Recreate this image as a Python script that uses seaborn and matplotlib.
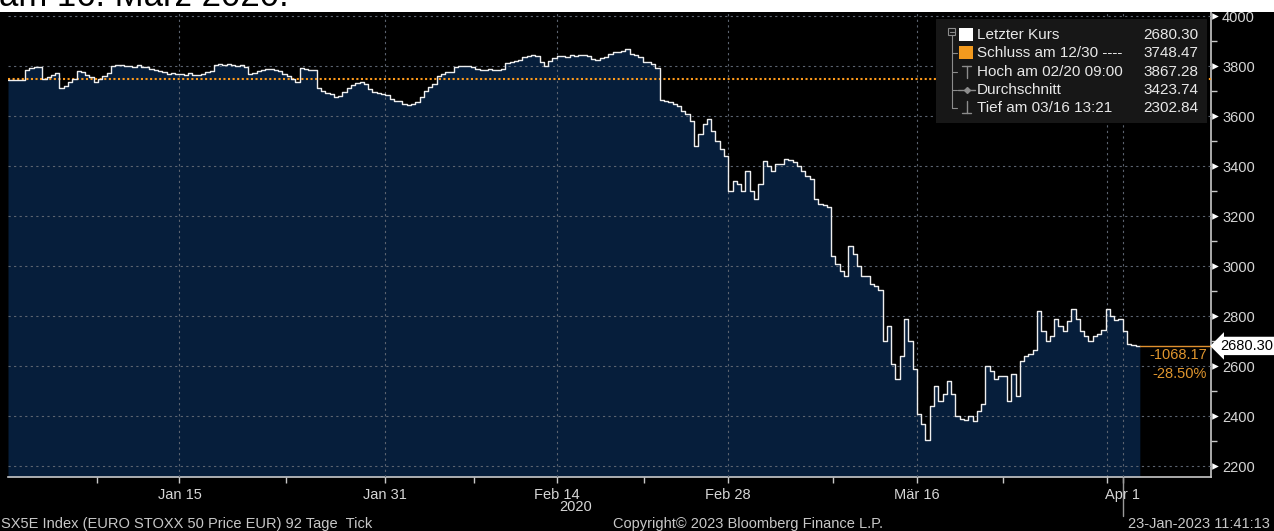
import numpy as np
import pandas as pd
import seaborn as sns
import matplotlib.pyplot as plt
import matplotlib.transforms as mtransforms
from matplotlib.patches import Rectangle
from matplotlib.lines import Line2D

# x axis: trading-day index, 0 = Dec 31 2019, 65 = Apr 1 2020
tick_days = [10, 22, 32, 42, 53, 65]
tick_labels = ["Jan 15", "Jan 31", "Feb 14", "Feb 28", "Mär 16", "Apr 1"]
minor_days = [5.2, 16.2, 27.2, 37.1, 48.1, 58.0]
points_per_day = 4

# intraday prices, four readings per trading day
prices = [
    3745, 3745, 3745, 3745,
    3784, 3792, 3797, 3795,
    3750, 3756, 3765, 3772,
    3712, 3722, 3735, 3748,
    3780, 3775, 3765, 3755,
    3738, 3748, 3760, 3772,
    3800, 3805, 3803, 3800,
    3800, 3797, 3803, 3797,
    3796, 3790, 3785, 3780,
    3775, 3770, 3772, 3768,
    3770, 3766, 3772, 3765,
    3765, 3768, 3775, 3780,
    3805, 3808, 3806, 3810,
    3803, 3800, 3805, 3798,
    3768, 3772, 3780, 3785,
    3788, 3790, 3785, 3782,
    3770, 3760, 3750, 3738,
    3792, 3790, 3786, 3785,
    3712, 3700, 3692, 3688,
    3678, 3682, 3695, 3712,
    3725, 3733, 3738, 3730,
    3710, 3698, 3692, 3688,
    3685, 3670, 3662, 3660,
    3650, 3644, 3650, 3655,
    3675, 3700, 3718, 3728,
    3762, 3770, 3775, 3776,
    3797, 3800, 3802, 3800,
    3795, 3790, 3786, 3785,
    3790, 3786, 3784, 3790,
    3812, 3816, 3820, 3825,
    3835, 3840, 3843, 3842,
    3815, 3802, 3820, 3832,
    3840, 3842, 3838, 3843,
    3842, 3845, 3843, 3840,
    3828, 3825, 3832, 3835,
    3850, 3855, 3856, 3860,
    3867, 3850, 3845, 3835,
    3818, 3815, 3808, 3792,
    3665, 3662, 3655, 3650,
    3640, 3620, 3610, 3580,
    3480, 3530, 3570, 3590,
    3540, 3500, 3470, 3440,
    3300, 3340, 3330, 3300,
    3380, 3300, 3270, 3330,
    3420, 3400, 3380, 3410,
    3410, 3430, 3425, 3415,
    3400, 3380, 3360, 3350,
    3270, 3250, 3245, 3235,
    3040, 3010, 2980, 2960,
    3080, 3050, 3000, 2960,
    2960, 2930, 2920, 2905,
    2700, 2760, 2610, 2550,
    2640, 2790, 2700, 2590,
    2410, 2370, 2305, 2440,
    2520, 2460, 2490, 2540,
    2490, 2400, 2390, 2385,
    2400, 2380, 2420, 2450,
    2600, 2580, 2550, 2560,
    2560, 2460, 2570, 2480,
    2620, 2640, 2650, 2665,
    2820, 2740, 2700, 2720,
    2790, 2760, 2740, 2780,
    2830, 2790, 2740, 2720,
    2700, 2720, 2730, 2745,
    2830, 2800, 2785, 2790,
    2740, 2690, 2685, 2680.30,
]

y_ticks = list(range(2200, 4001, 200))
last_price = 2680.30
ref_close = 3748.47
high_val = 3867.28
avg_val = 3423.74
low_val = 2302.84
change_abs = -1068.17
change_pct = -28.50

legend_labels = ["Letzter Kurs", "Schluss am 12/30 ----", "Hoch am 02/20 09:00",
                 "Durchschnitt", "Tief am 03/16 13:21"]
legend_values = [last_price, ref_close, high_val, avg_val, low_val]

W, H = 1274, 531
NAVY = "#061e3b"
FG = "#d6d6d6"
ORANGE = "#ff9a1a"
ORANGE_TXT = "#e0962e"


def fx(px):
    return px / W


def fy(py):
    return 1 - py / H


sns.set_style("dark", rc={"axes.facecolor": "black", "figure.facecolor": "black"})
plt.rcParams["font.family"] = ["Liberation Sans", "DejaVu Sans"]

fig = plt.figure(figsize=(W / 100, H / 100), dpi=100)
ax = fig.add_axes([fx(8), fy(477), fx(1211) - fx(8), fy(12) - fy(477)])
ax.set_facecolor("black")

n_days = len(prices) / points_per_day
df = pd.DataFrame({"t": np.arange(len(prices)) / points_per_day, "price": prices})
df = pd.concat([df, pd.DataFrame({"t": [n_days], "price": [prices[-1]]})], ignore_index=True)

x_max = 70.15
y_min, y_max = 2156, 4016

ax.fill_between(df["t"], df["price"], y_min, step="post", color=NAVY, lw=0, zorder=1)
sns.lineplot(data=df, x="t", y="price", estimator=None, drawstyle="steps-post",
             color="#eeeeee", lw=1.0, ax=ax, zorder=4)

ax.axhline(ref_close, color=ORANGE, lw=1.5, ls=(0, (1, 1.2)), zorder=3)

ax.set_xlim(0, x_max)
ax.set_ylim(y_min, y_max)

# grid
ax.set_axisbelow(False)
ax.grid(True, which="major", color="#5c6470", lw=0.8, ls=(0, (2, 3)))
ax.axvline(64.1, color="#5c6470", lw=0.8, ls=(0, (2, 3)))

# axes
for s in ["top", "left"]:
    ax.spines[s].set_visible(False)
for s in ["right", "bottom"]:
    ax.spines[s].set_visible(True)
    ax.spines[s].set_color("#c8c8c8")
    ax.spines[s].set_linewidth(1.2)

ax.set_xticks(tick_days)
ax.set_xticklabels(tick_labels)
ax.set_xticks(minor_days + [64.1], minor=True)
ax.tick_params(axis="x", which="both", direction="out", length=4, width=1,
               color="#c8c8c8", labelcolor=FG, labelsize=10.5, pad=4, bottom=True)

ax.yaxis.tick_right()
ax.set_yticks(y_ticks)
ax.set_yticks([v + 100 for v in y_ticks[:-1]], minor=True)
ax.tick_params(axis="y", which="major", length=0, pad=8, labelcolor=FG, labelsize=10.5,
               right=True, left=False)
ax.tick_params(axis="y", which="minor", direction="out", length=4, width=1,
               color="#c8c8c8", right=True, left=False)
ax.set_xlabel("")
ax.set_ylabel("")

# triangle markers on the major y ticks
blend = mtransforms.blended_transform_factory(ax.transAxes, ax.transData)
tri_tr = mtransforms.offset_copy(blend, fig=fig, x=4, y=0, units="dots")
ax.scatter([1.0] * len(y_ticks), y_ticks, marker=">", s=22, color="white",
           transform=tri_tr, clip_on=False, zorder=5, linewidths=0)

# last price line, tag and change
ax.plot([n_days, x_max + 0.2], [last_price, last_price], color="#e0902e", lw=1.0,
        clip_on=False, zorder=5)
tag_tr = mtransforms.offset_copy(blend, fig=fig, x=9, y=0, units="dots")
ax.text(1.0, last_price, f"{last_price:.2f}", transform=tag_tr, ha="left", va="center",
        fontsize=10.5, color="black", zorder=6,
        bbox=dict(boxstyle="larrow,pad=0.15", fc="white", ec="none"))
ax.text(0.9965, last_price - 36, f"{change_abs:.2f}", transform=blend, ha="right",
        va="center", fontsize=10.5, color=ORANGE_TXT, zorder=6)
ax.text(0.9965, last_price - 112, f"{change_pct:.2f}%", transform=blend, ha="right",
        va="center", fontsize=10.5, color=ORANGE_TXT, zorder=6)

# marker line below Apr 1
fig.add_artist(Line2D([fx(1123), fx(1123)], [fy(478), fy(516)], color="#9a9a9a", lw=1))

# legend box
fig.add_artist(Rectangle((fx(936), fy(123)), fx(1207) - fx(936), fy(19) - fy(123),
                         transform=fig.transFigure, fc="#171717", ec="none", zorder=6))
row_y = [35, 53, 72, 90, 108]
icon_c = "#8c8c8c"
fig.add_artist(Rectangle((fx(948), fy(35)), fx(7), 7 / H, transform=fig.transFigure,
                         fc="none", ec=icon_c, lw=0.8, zorder=7))
fig.add_artist(Line2D([fx(949.5), fx(953.5)], [fy(31.5)] * 2, color=icon_c, lw=0.8, zorder=7))
fig.add_artist(Line2D([fx(951.5)] * 2, [fy(35), fy(108)], color=icon_c, lw=0.8, zorder=7))
for ry in row_y[1:]:
    fig.add_artist(Line2D([fx(951.5), fx(957)], [fy(ry)] * 2, color=icon_c, lw=0.8, zorder=7))
fig.add_artist(Rectangle((fx(959), fy(41)), fx(14), 13 / H, transform=fig.transFigure,
                         fc="white", ec="none", zorder=7))
fig.add_artist(Rectangle((fx(959), fy(59)), fx(14), 13 / H, transform=fig.transFigure,
                         fc="#f39a1e", ec="none", zorder=7))
fig.add_artist(Line2D([fx(962), fx(971)], [fy(66)] * 2, color=icon_c, lw=1, zorder=7))
fig.add_artist(Line2D([fx(966.5)] * 2, [fy(66), fy(78)], color=icon_c, lw=1, zorder=7))
fig.add_artist(Line2D([fx(958), fx(975)], [fy(90)] * 2, color=icon_c, lw=1, zorder=7))
fig.add_artist(Line2D([fx(966.5)], [fy(90)], color=icon_c, marker="D", ms=3, lw=0, zorder=7))
fig.add_artist(Line2D([fx(966.5)] * 2, [fy(101), fy(113)], color=icon_c, lw=1, zorder=7))
fig.add_artist(Line2D([fx(962), fx(971)], [fy(113)] * 2, color=icon_c, lw=1, zorder=7))
for ry, lab, val in zip(row_y, legend_labels, legend_values):
    fig.text(fx(977), fy(ry), lab, ha="left", va="center", fontsize=11, color="#e8e8e8", zorder=8)
    fig.text(fx(1198), fy(ry), f"{val:.2f}", ha="right", va="center", fontsize=11,
             color="#e8e8e8", zorder=8)

# top strip with caption cut off by the frame, as in the screenshot
fig.add_artist(Rectangle((0, fy(12)), 1, 12 / H, transform=fig.transFigure,
                         fc="white", ec="none", zorder=6))
fig.text(fx(-1), fy(6), "am 16. März 2020.", ha="left", va="baseline", fontsize=25,
         color="black", zorder=8)

# footer
fig.text(fx(576), fy(507), "2020", ha="center", va="center", fontsize=10.5, color=FG)
fig.text(fx(1), fy(524), "SX5E Index (EURO STOXX 50 Price EUR) 92 Tage  Tick", ha="left",
         va="center", fontsize=10.5, color="#c8c8c8")
fig.text(fx(613), fy(524), "Copyright© 2023 Bloomberg Finance L.P.", ha="left",
         va="center", fontsize=10.5, color="#c8c8c8")
fig.text(fx(1270), fy(524), "23-Jan-2023 11:41:13", ha="right", va="center",
         fontsize=10.5, color="#c8c8c8")

fig.savefig("out.png", dpi=100, facecolor="black")
